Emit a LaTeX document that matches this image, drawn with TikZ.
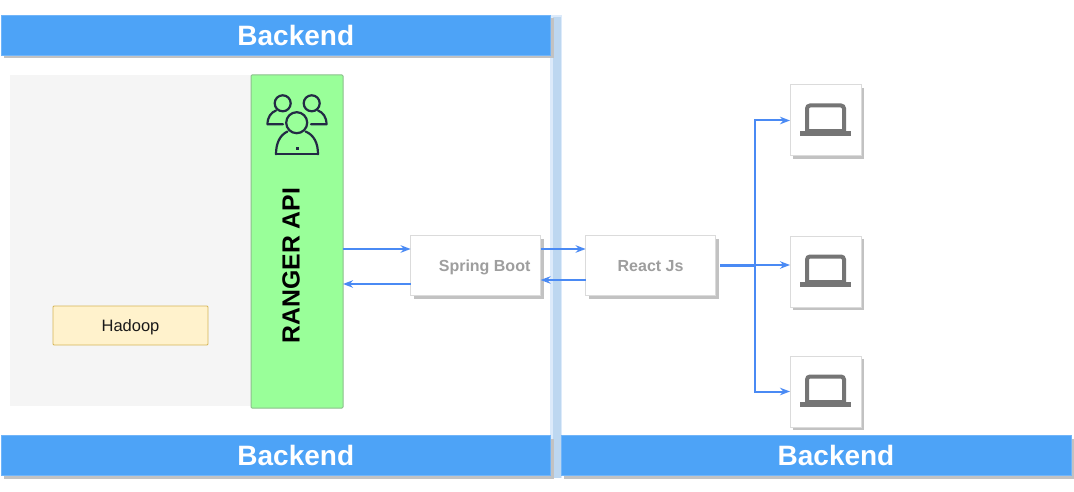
\documentclass[tikz,border=0pt]{standalone}
\usepackage{fontspec}
\setmainfont{Liberation Sans}
\usetikzlibrary{arrows.meta,shadows}
\definecolor{hdr}{HTML}{4DA3F7}
\definecolor{link}{HTML}{4A8AF4}
\definecolor{stripe}{HTML}{BDD7F0}
\definecolor{stripeedge}{HTML}{DCEAFA}
\definecolor{icon}{HTML}{232A45}
\definecolor{lap}{HTML}{757575}
\definecolor{shade}{HTML}{C2C2C2}
\newcommand{\lowertext}{\rule[-3.4pt]{0pt}{18.5pt}}
\tikzset{
  shade3/.style={general shadow={shadow xshift=3pt,shadow yshift=-3pt,fill=shade}},
  header/.style={rectangle,draw=hdr!80!white,line width=.8pt,fill=hdr,outer sep=0pt,minimum height=40pt,text=white,font=\fontsize{28}{32}\selectfont\bfseries,shade3},
  card/.style={rectangle,draw=black!14,line width=1pt,fill=white,outer sep=0pt,shade3},
  service/.style={card,minimum width=130pt,minimum height=60pt,text=black!38,font=\fontsize{16}{18}\selectfont\bfseries},
  laptopcard/.style={card,minimum width=71pt,minimum height=71pt},
  wire/.style={draw=link,line width=2pt,-{Stealth[length=10pt,width=7.5pt]}},
  thickwire/.style={draw=link,line width=3pt},
  person/.style={draw=icon,line width=2.2pt,line cap=round,line join=round},
}
\begin{document}
\begin{tikzpicture}[x=1pt,y=-1pt]
\useasboundingbox[fill=white] (0,0) rectangle (1074,492);
% centre stripe
\fill[stripeedge] (550,15) rectangle (562,478);
\fill[stripe] (552.5,17) rectangle (561,478);
% headers
\node[header,minimum width=549.5pt] (top) at (275.8,35) {\hspace*{40pt}Backend};
\node[header,minimum width=549.5pt] (botl) at (275.8,455.5) {\hspace*{40pt}Backend};
\node[header,minimum width=510pt] (botr) at (816,455.5) {\hspace*{40pt}Backend};
% backend panel
\node[rectangle,fill=black!4,minimum width=241pt,minimum height=330pt,outer sep=0pt] (panel) at (130.5,240.5) {};
\node[rectangle,rounded corners=1pt,draw=green!45!black!45,line width=1pt,fill={rgb,255:red,153;green,255;blue,153},minimum width=92pt,minimum height=333pt,outer sep=0pt] (ranger) at (297,241.5) {};
\node[rotate=90,font=\fontsize{24.8}{28}\selectfont\bfseries,text=black] (rangerlabel) at (291,265.5) {RANGER API};
\node[rectangle,rounded corners=1pt,draw={rgb,255:red,214;green,182;blue,86},line width=.8pt,fill={rgb,255:red,255;green,242;blue,204},minimum width=155pt,minimum height=39pt,font=\fontsize{16.5}{20}\selectfont,text=black!90] (hadoop) at (130.5,325.5) {\lowertext Hadoop};
% people icon
\draw[person] (282.7,103.3) circle (8);
\draw[person] (311.7,103.3) circle (8);
\draw[person] (296.7,122.7) circle (10.5);
\draw[person] (283,124.3) -- (267.5,124.3) .. controls (267.5,117) and (271,112.5) .. (276,110.5);
\draw[person] (311,124.3) -- (326.5,124.3) .. controls (326.5,117) and (323,112.5) .. (318,110.5);
\draw[person] (276,154.3) .. controls (276,143) and (280,135) .. (287.5,131.5);
\draw[person] (318,154.3) .. controls (318,143) and (314,135) .. (305.5,131.5);
\draw[person] (276,154.3) -- (318,154.3);
\fill[icon] (296,147) rectangle (298.8,149.8);
% services
\node[service] (spring) at (475.6,265.5) {\hspace*{18pt}\lowertext Spring Boot};
\node[service] (react) at (650.6,265.5) {\lowertext React Js};
% laptops
\foreach \n/\cy in {a/120.5,b/271.5,c/391.5}{
  \node[laptopcard] (lap\n) at (825.5,\cy) {};
  \begin{scope}[shift={(825.5,\cy)}]
    \draw[lap,line width=4pt,rounded corners=3pt] (-18.5,11) -- (-18.5,-15) -- (18.5,-15) -- (18.5,11);
    \fill[lap] (-25.5,10.5) rectangle (25.5,15.5);
    \fill[lap] (-18.5,8.5) rectangle (18.5,11);
  \end{scope}
}
% connectors
\draw[wire] ([yshift=-7.5pt]ranger.east) -- ([yshift=-7.5pt]ranger.east -| spring.west);
\draw[wire] ([yshift=-18.5pt]spring.west) -- ([yshift=-18.5pt]spring.west -| ranger.east);
\draw[wire] ([yshift=16.5pt]spring.east) -- ([yshift=16.5pt]spring.east -| react.west);
\draw[wire] ([yshift=-14.5pt]react.west) -- ([yshift=-14.5pt]react.west -| spring.east);
\coordinate (fork) at (755,265);
\coordinate (start) at (720,265);
\draw[thickwire] (start) -- (fork);
\draw[wire] (fork) -- (fork -| lapb.west);
\draw[wire] (fork) |- (lapa.west);
\draw[wire] (fork) |- (lapc.west);
\end{tikzpicture}
\end{document}
